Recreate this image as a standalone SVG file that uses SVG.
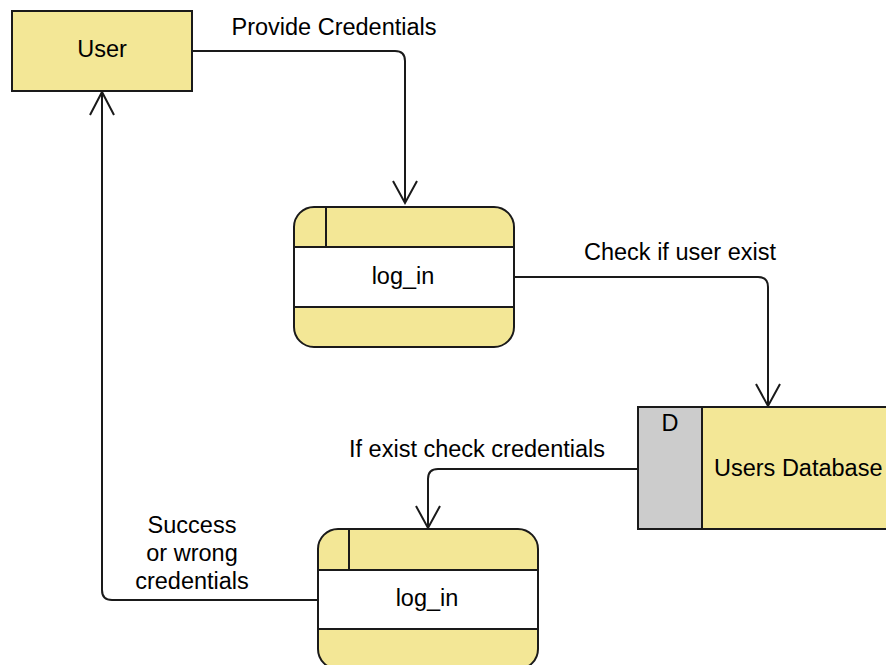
<svg xmlns="http://www.w3.org/2000/svg" width="886" height="665" viewBox="0 0 886 665">
<style>
text{font-family:"Liberation Sans",Arial,sans-serif;font-size:23.5px;fill:#000}
.c{text-anchor:middle}
.box{fill:#F3E796;stroke:#1a1a1a;stroke-width:2}
.ln{fill:none;stroke:#1a1a1a;stroke-width:2}
.mid{fill:#fff;stroke:#1a1a1a;stroke-width:2}
</style>
<rect width="886" height="665" fill="#fff"/>
<g id="connectors" class="ln">
<path d="M192 51 H395 Q405 51 405 61 V203"/>
<path d="M393 181 L405 203 L417 181"/>
<path d="M514 277 H758 Q768 277 768 287 V406"/>
<path d="M756 384 L768 406 L780 384"/>
<path d="M638 469 H438 Q428 469 428 479 V528"/>
<path d="M416 506 L428 528 L440 506"/>
<path d="M318 600 H112 Q102 600 102 590 V92"/>
<path d="M90 115 L102 92 L114 115"/>
</g>
<g id="labels">
<text class="c" x="334" y="35">Provide Credentials</text>
<text class="c" x="680" y="260">Check if user exist</text>
<text class="c" x="477" y="457">If exist check credentials</text>
<text class="c" x="192" y="533">Success</text>
<text class="c" x="192" y="561">or wrong</text>
<text class="c" x="192" y="589">credentials</text>
</g>
<g id="user">
<rect class="box" x="12" y="11" width="180" height="80"/>
<text class="c" x="102" y="57">User</text>
</g>
<g id="login1">
<rect class="box" x="294" y="207" width="220" height="140" rx="20" ry="20"/>
<rect class="mid" x="294" y="247" width="220" height="60"/>
<line class="ln" x1="326" y1="207" x2="326" y2="247"/>
<text class="c" x="403" y="284">log_in</text>
</g>
<g id="usersdb">
<rect class="box" x="638" y="407" width="260" height="122"/>
<rect x="638" y="407" width="64" height="122" fill="#CCCCCC" stroke="#1a1a1a" stroke-width="2"/>
<text class="c" x="670" y="431">D</text>
<text x="714" y="476">Users Database</text>
</g>
<g id="login2">
<rect class="box" x="318" y="529" width="220" height="140" rx="20" ry="20"/>
<rect class="mid" x="318" y="570" width="220" height="59"/>
<line class="ln" x1="349" y1="529" x2="349" y2="570"/>
<text class="c" x="427" y="606">log_in</text>
</g>
</svg>
